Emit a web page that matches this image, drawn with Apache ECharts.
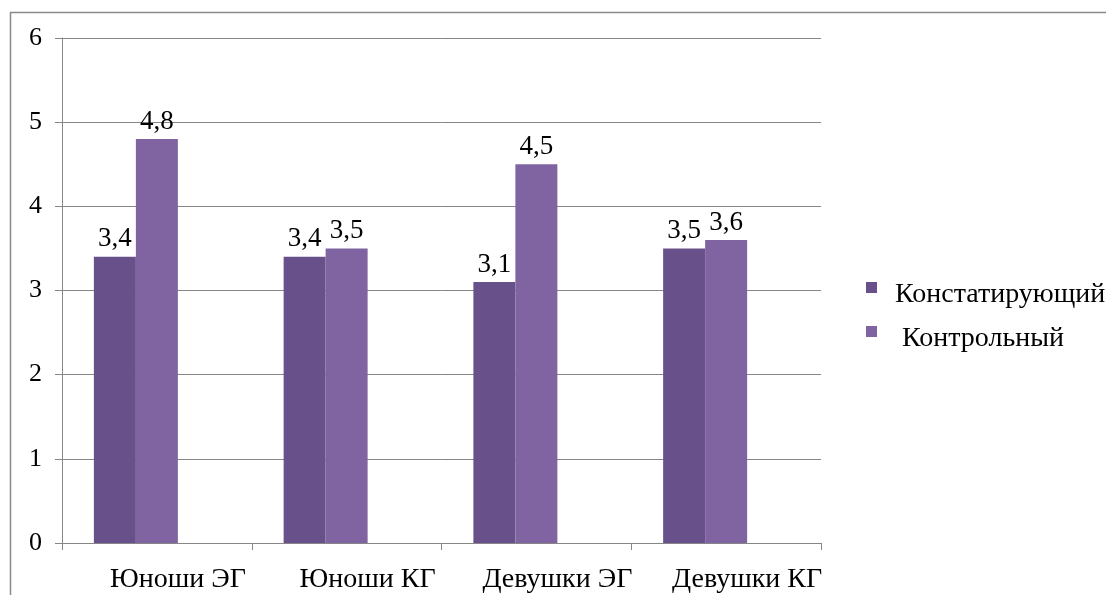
<!DOCTYPE html>
<html>
<head>
<meta charset="utf-8">
<script src="https://cdn.jsdelivr.net/npm/echarts@6/dist/echarts.min.js"></script>
<style>
  html, body { margin: 0; padding: 0; background: #ffffff; }
  #chart { width: 1106px; height: 595px; }
</style>
</head>
<body>
<div id="chart"></div>
<script>
// Groups along the x axis
const categories = ['Юноши ЭГ', 'Юноши КГ', 'Девушки ЭГ', 'Девушки КГ'];
// Series names (the second keeps its leading space)
const seriesNames = ['Констатирующий', ' Контрольный'];
// Values per stage
const stateValues = [3.4, 3.4, 3.1, 3.5];
const controlValues = [4.8, 3.5, 4.5, 3.6];
// Empty third slot in each group
const emptyValues = [null, null, null, null];
// Y axis range
const yMin = 0, yMax = 6, yStep = 1;

const serifFont = 'Liberation Serif';
const gridColor = '#868686';

const chart = echarts.init(document.getElementById('chart'));

const labelOpt = {
  show: true,
  position: 'top',
  distance: 4,
  fontFamily: serifFont,
  fontSize: 27,
  color: '#000',
  formatter: p => String(p.value).replace('.', ',')
};

chart.setOption({
  animation: false,
  backgroundColor: '#ffffff',
  textStyle: { fontFamily: serifFont },
  graphic: [{
    type: 'rect',
    shape: { x: 10.5, y: 12.5, width: 1200, height: 700 },
    style: { fill: 'none', stroke: '#8a8a8a', lineWidth: 1.5 },
    silent: true,
    z: -10
  }],
  grid: { left: 62, right: 285, top: 38, bottom: 52, containLabel: false },
  legend: {
    data: seriesNames,
    orient: 'vertical',
    left: 861,
    top: 276,
    // square marker sitting in the upper part of a taller icon box
    icon: 'path://M0,0H11V11H0Z M0,26L0.01,26L0,26Z',
    itemWidth: 11,
    itemHeight: 26,
    itemGap: 16,
    textStyle: { fontFamily: serifFont, fontSize: 28, color: '#000', padding: [0, 0, 0, 13] }
  },
  xAxis: {
    type: 'category',
    data: categories,
    axisLine: { lineStyle: { color: gridColor, width: 1 } },
    axisTick: { show: true, length: 7, interval: 0, lineStyle: { color: gridColor } },
    axisLabel: { fontFamily: serifFont, fontSize: 28, color: '#000', margin: 23, interval: 0, padding: [0, 0, 0, 42] },
    splitLine: { show: false }
  },
  yAxis: {
    type: 'value',
    min: yMin,
    max: yMax,
    interval: yStep,
    axisLine: { show: true, lineStyle: { color: gridColor, width: 1 } },
    axisTick: { show: true, length: 7, lineStyle: { color: gridColor } },
    axisLabel: { fontFamily: serifFont, fontSize: 26, color: '#000', margin: 20, padding: [9, 0, 0, 0] },
    splitLine: { show: true, lineStyle: { color: gridColor, width: 1 } }
  },
  series: [
    {
      name: seriesNames[0], type: 'bar', data: stateValues,
      barWidth: 42, barGap: '0%',
      itemStyle: { color: '#68508A' },
      label: labelOpt
    },
    {
      name: seriesNames[1], type: 'bar', data: controlValues,
      barWidth: 42, barGap: '0%',
      itemStyle: { color: '#8064A2' },
      label: labelOpt
    },
    {
      name: 'empty', type: 'bar', data: emptyValues,
      barWidth: 42, barGap: '0%',
      itemStyle: { color: '#4BACC6' }
    }
  ]
});
</script>
</body>
</html>
